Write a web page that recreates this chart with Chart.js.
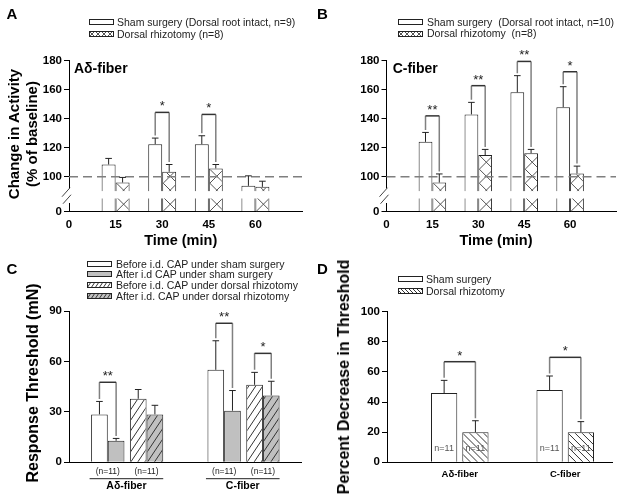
<!DOCTYPE html>
<html>
<head>
<meta charset="utf-8">
<script src="https://cdn.jsdelivr.net/npm/chart.js@4.4.0/dist/chart.umd.min.js"></script>
<style>
body { margin: 0; background: #fff; font-family: "Liberation Sans", Arial, sans-serif; color: #222; }
#fig { position: relative; width: 622px; height: 499px; overflow: hidden; }
canvas.plot { position: absolute; }
canvas.sw { position: absolute; }
.t { position: absolute; white-space: nowrap; line-height: 1; }
.c { transform: translate(-50%, -50%); }
.b { font-weight: bold; color: #000; }
.leg { font-size: 10.5px; transform: translateY(-50%); }
</style>
</head>
<body>
<div id="fig">
  <canvas class="plot" id="chartA" width="311" height="250" style="left:0;top:0"></canvas>
  <canvas class="plot" id="chartB" width="311" height="250" style="left:311px;top:0"></canvas>
  <canvas class="plot" id="chartC" width="311" height="249" style="left:0;top:250px"></canvas>
  <canvas class="plot" id="chartD" width="311" height="249" style="left:311px;top:250px"></canvas>

  <div class="t b c" style="left:12px;top:13px;font-size:15px">A</div>
  <div class="t b c" style="left:322.5px;top:13px;font-size:15px">B</div>
  <div class="t b c" style="left:12px;top:267.5px;font-size:15px">C</div>
  <div class="t b c" style="left:322.5px;top:267.5px;font-size:15px">D</div>

  <!-- legends -->
  <canvas class="sw" id="swA1" width="25" height="6" style="left:89px;top:19px"></canvas>
  <div class="t leg" style="left:117px;top:21.7px">Sham surgery (Dorsal root intact, n=9)</div>
  <canvas class="sw" id="swA2" width="25" height="6" style="left:89px;top:31px"></canvas>
  <div class="t leg" style="left:117px;top:33.5px">Dorsal rhizotomy (n=8)</div>

  <canvas class="sw" id="swB1" width="25" height="6" style="left:398px;top:19px"></canvas>
  <div class="t leg" style="left:427px;top:21.7px">Sham surgery&nbsp; (Dorsal root intact, n=10)</div>
  <canvas class="sw" id="swB2" width="25" height="6" style="left:398px;top:30.5px"></canvas>
  <div class="t leg" style="left:427px;top:33px">Dorsal rhizotomy&nbsp; (n=8)</div>

  <canvas class="sw" id="swC1" width="25" height="6" style="left:87px;top:260.7px"></canvas>
  <div class="t leg" style="left:116px;top:263.7px">Before i.d. CAP under sham surgery</div>
  <canvas class="sw" id="swC2" width="25" height="6" style="left:87px;top:271.3px"></canvas>
  <div class="t leg" style="left:116px;top:274.3px">After i.d CAP under sham surgery</div>
  <canvas class="sw" id="swC3" width="25" height="6" style="left:87px;top:282px"></canvas>
  <div class="t leg" style="left:116px;top:285px">Before i.d. CAP under dorsal rhizotomy</div>
  <canvas class="sw" id="swC4" width="25" height="6" style="left:87px;top:293.3px"></canvas>
  <div class="t leg" style="left:116px;top:296.3px">After i.d. CAP under dorsal rhizotomy</div>

  <canvas class="sw" id="swD1" width="25" height="6" style="left:398px;top:275.5px"></canvas>
  <div class="t leg" style="left:426px;top:278.5px">Sham surgery</div>
  <canvas class="sw" id="swD2" width="25" height="6" style="left:398px;top:288px"></canvas>
  <div class="t leg" style="left:426px;top:291px">Dorsal rhizotomy</div>

  <!-- axis titles -->
  <div class="t b" style="left:22.5px;top:134px;font-size:15px;line-height:18px;text-align:center;transform:translate(-50%,-50%) rotate(-90deg)">Change in Activity<br>(% of baseline)</div>
  <div class="t b c" style="left:180.7px;top:239.5px;font-size:14.5px">Time (min)</div>
  <div class="t b c" style="left:496px;top:239.5px;font-size:14.5px">Time (min)</div>
  <div class="t b" style="left:74px;top:68px;font-size:14px;transform:translateY(-50%)">Aδ-fiber</div>
  <div class="t b" style="left:392.7px;top:68px;font-size:14px;transform:translateY(-50%)">C-fiber</div>
  <div class="t b" style="left:33.3px;top:382.5px;font-size:16px;transform:translate(-50%,-50%) rotate(-90deg)">Response Threshold (mN)</div>
  <div class="t b" style="left:343.5px;top:377px;font-size:16px;transform:translate(-50%,-50%) rotate(-90deg)">Percent Decrease in Threshold</div>
</div>

<script>
// time points (min) for panels A and B
const times = [15, 30, 45, 60];
const BREAK_AT = 76;                 // value where the broken axis reads "0"
const activityTicks = [100, 120, 140, 160, 180];

// A: A-delta fiber activity (% of baseline)
const aSham = [108.5, 122.5, 122.5, 93.8];
const aShamErr = [4.2, 4.2, 5.8, 6.9];
const aRhiz = [96.1, 103.5, 105.8, 93.1];
const aRhizErr = [3.5, 5.0, 2.7, 3.9];
const aStars = ['', '*', '*', ''];
const aStarLevel = [null, 144.4, 143, null];

// B: C fiber activity (% of baseline)
const bSham = [124.1, 143, 158.2, 148];
const bShamErr = [6.5, 8.3, 11.5, 14.1];
const bRhiz = [96.1, 115, 116.3, 102.3];
const bRhizErr = [5.9, 3.9, 2.6, 5.1];
const bStars = ['**', '**', '**', '*'];
const bStarLevel = [142, 162.8, 179.5, 172.4];

// C: response threshold (mN), order [A-delta, C]
const fibers = ['Aδ-fiber', 'C-fiber'];
const nLabels = ['(n=11)', '(n=11)'];
const cShamBefore = [28.5, 55];
const cShamBeforeErr = [7.7, 17.3];
const cShamAfter = [12.8, 30.7];
const cShamAfterErr = [1.4, 12];
const cRhizBefore = [37.8, 46.1];
const cRhizBeforeErr = [5.5, 7.4];
const cRhizAfter = [28.5, 39.8];
const cRhizAfterErr = [5.4, 8.4];
const cShamStars = ['**', '**'];
const cShamStarLevel = [47.6, 82.7];
const cRhizStars = ['', '*'];
const cRhizStarLevel = [null, 64.8];

// D: percent decrease in threshold
const dSham = [46, 48];
const dShamErr = [8.4, 9.3];
const dRhiz = [19.9, 19.9];
const dRhizErr = [7.7, 7.1];
const dStars = ['*', '*'];
const dStarLevel = [66.8, 69.7];
const dCounts = ['n=11', 'n=11'];

const FONT = '"Liberation Sans", Arial, sans-serif';
Chart.defaults.font.family = FONT;
const tickFont = { family: FONT, size: 11.5, weight: 'bold' };
const GRAY = '#c0c0c0';

const CROSS = { dirs: [1, -1], step: 14, color: '#555' };
const DIAG_UP = { dirs: [1.5], step: 7, color: '#333' };
const DIAG_DOWN = { dirs: [-1], step: 7, color: '#333' };

function val(d) { return d == null ? null : (typeof d === 'object' ? d.y : d); }

function hatch(ctx, h, left, top, right, bottom) {
  const w = right - left, ht = bottom - top;
  ctx.strokeStyle = h.color;
  ctx.lineWidth = 1;
  ctx.beginPath();
  h.dirs.forEach(f => {
    const span = ht / Math.abs(f);
    const L = span + w + h.step;
    for (let k = -Math.ceil(span / h.step) - 1; k <= Math.ceil((w + span) / h.step) + 1; k++) {
      const x0 = left + k * h.step;
      ctx.moveTo(x0 - L, bottom + f * L);
      ctx.lineTo(x0 + L, bottom - f * L);
    }
  });
  ctx.stroke();
}

function makeDecor(spec) {
  return {
    id: 'decor',
    afterDatasetsDraw(chart) {
      const ctx = chart.ctx, ys = chart.scales.y, area = chart.chartArea;
      ctx.save();

      // hatch fills, anchored to each bar
      chart.data.datasets.forEach((ds, di) => {
        if (!ds.hatch) return;
        chart.getDatasetMeta(di).data.forEach((bar, i) => {
          if (val(ds.data[i]) == null) return;
          const p = bar.getProps(['x', 'y', 'base', 'width'], true);
          const l = p.x - p.width / 2 + 1, r = p.x + p.width / 2 - 1;
          const t = p.y + 1, b = Math.min(p.base, area.bottom);
          ctx.save();
          ctx.beginPath(); ctx.rect(l, t, r - l, b - t); ctx.clip();
          hatch(ctx, ds.hatch, l, t, r, b);
          ctx.restore();
        });
      });

      // broken axis
      if (spec.gap) {
        const g1 = ys.getPixelForValue(spec.gap[1]), g0 = ys.getPixelForValue(spec.gap[0]);
        ctx.fillStyle = '#fff';
        ctx.fillRect(area.left + 1, g1, area.right - area.left, g0 - g1);
        const a1 = ys.getPixelForValue(spec.axisGap[1]), a0 = ys.getPixelForValue(spec.axisGap[0]);
        ctx.fillRect(area.left - 2, a1, 4, a0 - a1);
        const m = (a0 + a1) / 2, L = area.left;
        ctx.strokeStyle = '#444'; ctx.lineWidth = 1;
        ctx.beginPath();
        ctx.moveTo(L - 7, m + 1); ctx.lineTo(L + 1, m - 8);
        ctx.moveTo(L - 6, m + 8); ctx.lineTo(L + 2, m - 1);
        ctx.stroke();
      }

      // baseline reference
      if (spec.ref != null) {
        const y = ys.getPixelForValue(spec.ref);
        ctx.strokeStyle = '#7f7f7f'; ctx.lineWidth = 1.5; ctx.setLineDash([9, 5]);
        ctx.beginPath(); ctx.moveTo(area.left, y); ctx.lineTo(area.right, y); ctx.stroke();
        ctx.setLineDash([]);
      }

      // error bars (upper only)
      ctx.strokeStyle = '#222'; ctx.lineWidth = 1;
      chart.data.datasets.forEach((ds, di) => {
        chart.getDatasetMeta(di).data.forEach((bar, i) => {
          const v = val(ds.data[i]), e = ds.err[i];
          if (v == null || e == null) return;
          const top = ys.getPixelForValue(v + e);
          ctx.beginPath();
          ctx.moveTo(bar.x, bar.y); ctx.lineTo(bar.x, top);
          ctx.moveTo(bar.x - 3.3, top); ctx.lineTo(bar.x + 3.3, top);
          ctx.stroke();
        });
      });

      // significance brackets
      (spec.brackets || []).forEach(bk => {
        const lds = chart.data.datasets[bk.l], rds = chart.data.datasets[bk.r];
        const lb = chart.getDatasetMeta(bk.l).data[bk.i], rb = chart.getDatasetMeta(bk.r).data[bk.i];
        const ly = ys.getPixelForValue(val(lds.data[bk.i]) + lds.err[bk.i]) - 2.5;
        const ry = ys.getPixelForValue(val(rds.data[bk.i]) + rds.err[bk.i]) - 2.5;
        const ty = ys.getPixelForValue(bk.at);
        ctx.lineWidth = 1.5; ctx.strokeStyle = '#808080';
        ctx.beginPath();
        ctx.moveTo(lb.x, ly); ctx.lineTo(lb.x, ty);
        ctx.moveTo(rb.x, ty); ctx.lineTo(rb.x, ry);
        ctx.stroke();
        ctx.strokeStyle = '#333';
        ctx.beginPath(); ctx.moveTo(lb.x, ty); ctx.lineTo(rb.x, ty); ctx.stroke();
        ctx.fillStyle = '#222';
        ctx.font = '13px ' + FONT;
        ctx.textAlign = 'center'; ctx.textBaseline = 'alphabetic';
        ctx.fillText(bk.label, (lb.x + rb.x) / 2, ty - 2);
      });

      // sample size inside bars
      if (spec.counts) {
        ctx.fillStyle = '#555'; ctx.font = '9px ' + FONT;
        ctx.textAlign = 'center'; ctx.textBaseline = 'middle';
        chart.data.datasets.forEach((ds, di) => {
          chart.getDatasetMeta(di).data.forEach((bar, i) => {
            ctx.fillText(spec.counts[i], bar.x, area.bottom - 14);
          });
        });
      }

      // group underline + fiber labels
      if (spec.groups) {
        spec.groups.forEach(g => {
          const lb = chart.getDatasetMeta(0).data[g.from], rb = chart.getDatasetMeta(3).data[g.to];
          const l = lb.x - lb.width / 2 - 1.5, r = rb.x + rb.width / 2;
          const y = area.bottom + 16.4;
          ctx.strokeStyle = '#222'; ctx.lineWidth = 1;
          ctx.beginPath(); ctx.moveTo(l, y); ctx.lineTo(r, y); ctx.stroke();
          ctx.fillStyle = '#000'; ctx.font = 'bold 10.5px ' + FONT;
          ctx.textAlign = 'center'; ctx.textBaseline = 'middle';
          ctx.fillText(g.label, (l + r) / 2, area.bottom + 24);
        });
      }
      ctx.restore();
    }
  };
}

function yAxis(width, extra) {
  return Object.assign({
    grid: { drawOnChartArea: false, tickLength: 5, color: '#000' },
    border: { color: '#000' },
    afterFit: s => { s.width = width; }
  }, extra);
}

const xGrid = { display: false, drawTicks: false };

function activityChart(id, sham, shamErr, rhiz, rhizErr, stars, levels, yWidth, padRight) {
  const brackets = [];
  stars.forEach((s, i) => { if (s) brackets.push({ l: 0, r: 1, i, at: levels[i], label: s }); });
  return new Chart(document.getElementById(id), {
    type: 'bar',
    data: {
      datasets: [
        { label: 'Sham surgery', data: times.map((t, i) => ({ x: t, y: sham[i] })), err: shamErr, backgroundColor: '#fff' },
        { label: 'Dorsal rhizotomy', data: times.map((t, i) => ({ x: t, y: rhiz[i] })), err: rhizErr, backgroundColor: '#fff', hatch: CROSS }
      ]
    },
    options: {
      responsive: false, animation: false, events: [],
      datasets: { bar: { base: BREAK_AT, categoryPercentage: 0.6, barPercentage: 1, borderColor: '#222', borderWidth: 1 } },
      layout: { padding: { top: 60.7, right: padRight, left: 0, bottom: 0 } },
      plugins: { legend: { display: false }, tooltip: { enabled: false } },
      scales: {
        x: {
          type: 'linear', min: 0, max: 75, offset: false,
          grid: xGrid, border: { color: '#000' },
          ticks: { stepSize: 15, padding: 6, color: '#000', font: tickFont, maxRotation: 0, callback: v => v === 75 ? '' : v },
          afterFit: s => { s.height = 38.3; }
        },
        y: yAxis(yWidth, {
          min: BREAK_AT, max: 180,
          afterBuildTicks: s => { s.ticks = [BREAK_AT].concat(activityTicks).map(v => ({ value: v })); },
          ticks: { padding: 2, color: '#000', font: tickFont, callback: v => v === BREAK_AT ? '0' : v }
        })
      }
    },
    plugins: [makeDecor({ gap: [85.1, 90.2], axisGap: [82, 92], ref: 100, brackets })]
  });
}

activityChart('chartA', aSham, aShamErr, aRhiz, aRhizErr, aStars, aStarLevel, 69, 9);
activityChart('chartB', bSham, bShamErr, bRhiz, bRhizErr, bStars, bStarLevel, 75.5, 4.3);

// panel C: category slots [start, A-delta sham, A-delta rhizotomy, gap, C sham, C rhizotomy, end]
const shamSlot = [1, 4], rhizSlot = [2, 5];
const cSlots = ['', nLabels[0], nLabels[0], '', nLabels[1], nLabels[1], ''];
function slotted(vals, slots) {
  const a = new Array(cSlots.length).fill(null);
  slots.forEach((s, i) => { a[s] = vals[i]; });
  return a;
}
const cBrackets = [];
cShamStars.forEach((s, k) => { if (s) cBrackets.push({ l: 0, r: 1, i: shamSlot[k], at: cShamStarLevel[k], label: s }); });
cRhizStars.forEach((s, k) => { if (s) cBrackets.push({ l: 2, r: 3, i: rhizSlot[k], at: cRhizStarLevel[k], label: s }); });

new Chart(document.getElementById('chartC'), {
  type: 'bar',
  data: {
    labels: cSlots,
    datasets: [
      { label: 'Before i.d. CAP under sham surgery', data: slotted(cShamBefore, shamSlot), err: slotted(cShamBeforeErr, shamSlot), backgroundColor: '#fff' },
      { label: 'After i.d CAP under sham surgery', data: slotted(cShamAfter, shamSlot), err: slotted(cShamAfterErr, shamSlot), backgroundColor: GRAY },
      { label: 'Before i.d. CAP under dorsal rhizotomy', data: slotted(cRhizBefore, rhizSlot), err: slotted(cRhizBeforeErr, rhizSlot), backgroundColor: '#fff', hatch: DIAG_UP },
      { label: 'After i.d. CAP under dorsal rhizotomy', data: slotted(cRhizAfter, rhizSlot), err: slotted(cRhizAfterErr, rhizSlot), backgroundColor: GRAY, hatch: DIAG_UP }
    ]
  },
  options: {
    responsive: false, animation: false, events: [],
    datasets: { bar: { skipNull: true, categoryPercentage: 0.86, barPercentage: 1, borderColor: '#222', borderWidth: 1 } },
    layout: { padding: { top: 61, right: 9.3, left: 0, bottom: 0 } },
    plugins: { legend: { display: false }, tooltip: { enabled: false } },
    scales: {
      x: {
        type: 'category', offset: false,
        grid: xGrid, border: { color: '#000' },
        ticks: { padding: 4, color: '#222', font: { family: FONT, size: 8.5 }, autoSkip: false, maxRotation: 0 },
        afterFit: s => { s.height = 36.7; }
      },
      y: yAxis(69, {
        min: 0, max: 90,
        ticks: { stepSize: 30, padding: 2, color: '#000', font: tickFont }
      })
    }
  },
  plugins: [makeDecor({ brackets: cBrackets, groups: [
    { from: shamSlot[0], to: rhizSlot[0], label: fibers[0] },
    { from: shamSlot[1], to: rhizSlot[1], label: fibers[1] }
  ] })]
});

// panel D
const dBrackets = [];
dStars.forEach((s, i) => { if (s) dBrackets.push({ l: 0, r: 1, i, at: dStarLevel[i], label: s }); });
new Chart(document.getElementById('chartD'), {
  type: 'bar',
  data: {
    datasets: [
      { label: 'Sham surgery', data: fibers.map((f, i) => ({ x: i + 1, y: dSham[i] })), err: dShamErr, backgroundColor: '#fff' },
      { label: 'Dorsal rhizotomy', data: fibers.map((f, i) => ({ x: i + 1, y: dRhiz[i] })), err: dRhizErr, backgroundColor: '#fff', hatch: DIAG_DOWN }
    ]
  },
  options: {
    responsive: false, animation: false, events: [],
    datasets: { bar: { categoryPercentage: 0.593, barPercentage: 0.84, borderColor: '#222', borderWidth: 1 } },
    layout: { padding: { top: 61.7, right: 9.3, left: 0, bottom: 0 } },
    plugins: { legend: { display: false }, tooltip: { enabled: false } },
    scales: {
      x: {
        type: 'linear', min: 0.31, max: 2.45, offset: false,
        afterBuildTicks: s => { s.ticks = fibers.map((f, i) => ({ value: i + 1 })); },
        grid: xGrid, border: { color: '#000' },
        ticks: { padding: 6, color: '#000', font: { family: FONT, size: 9.5, weight: 'bold' }, maxRotation: 0, callback: v => fibers[v - 1] },
        afterFit: s => { s.height = 36.7; }
      },
      y: yAxis(76, {
        min: 0, max: 100,
        ticks: { stepSize: 20, padding: 2, color: '#000', font: tickFont }
      })
    }
  },
  plugins: [makeDecor({ brackets: dBrackets, counts: dCounts })]
});

// legend swatches
function drawSwatch(id, fill, h) {
  const cv = document.getElementById(id), ctx = cv.getContext('2d');
  ctx.fillStyle = fill; ctx.fillRect(0, 0, cv.width, cv.height);
  if (h) hatch(ctx, h, 0, 0, cv.width, cv.height);
  ctx.strokeStyle = '#222'; ctx.lineWidth = 1;
  ctx.strokeRect(0.5, 0.5, cv.width - 1, cv.height - 1);
}
const CROSS_S = { dirs: [1, -1], step: 6, color: '#555' };
const UP_S = { dirs: [1.5], step: 4, color: '#333' };
const DOWN_S = { dirs: [-1], step: 4, color: '#333' };
drawSwatch('swA1', '#fff'); drawSwatch('swA2', '#fff', CROSS_S);
drawSwatch('swB1', '#fff'); drawSwatch('swB2', '#fff', CROSS_S);
drawSwatch('swC1', '#fff'); drawSwatch('swC2', GRAY);
drawSwatch('swC3', '#fff', UP_S); drawSwatch('swC4', GRAY, UP_S);
drawSwatch('swD1', '#fff'); drawSwatch('swD2', '#fff', DOWN_S);
</script>
</body>
</html>
